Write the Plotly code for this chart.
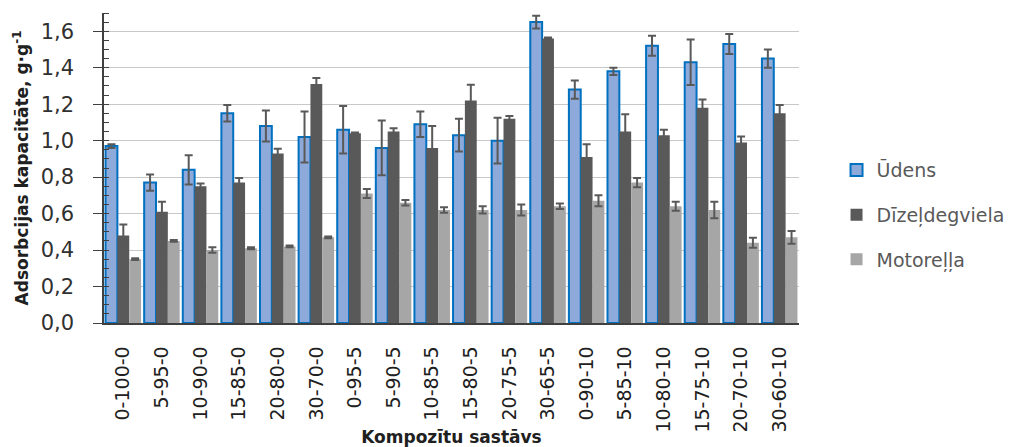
import plotly.graph_objects as go

categories = ["0-100-0", "5-95-0", "10-90-0", "15-85-0", "20-80-0", "30-70-0",
              "0-95-5", "5-90-5", "10-85-5", "15-80-5", "20-75-5", "30-65-5",
              "0-90-10", "5-85-10", "10-80-10", "15-75-10", "20-70-10", "30-60-10"]

udens = [0.97, 0.77, 0.84, 1.15, 1.08, 1.02, 1.06, 0.96, 1.09, 1.03, 1.00, 1.65,
         1.28, 1.38, 1.52, 1.43, 1.53, 1.45]
udens_err = [0.01, 0.045, 0.08, 0.045, 0.085, 0.14, 0.13, 0.15, 0.07, 0.09, 0.125, 0.035,
             0.05, 0.02, 0.055, 0.125, 0.055, 0.05]

dizeldegviela = [0.48, 0.61, 0.75, 0.77, 0.93, 1.31, 1.04, 1.05, 0.96, 1.22, 1.12, 1.56,
                 0.91, 1.05, 1.03, 1.18, 0.99, 1.15]
dizeldegviela_err = [0.06, 0.055, 0.015, 0.025, 0.025, 0.033, 0.005, 0.018, 0.12, 0.087, 0.015, 0.005,
                     0.07, 0.095, 0.03, 0.045, 0.033, 0.045]

motorella = [0.35, 0.45, 0.40, 0.41, 0.42, 0.47, 0.71, 0.66, 0.62, 0.62, 0.62, 0.64,
             0.67, 0.77, 0.64, 0.62, 0.44, 0.47]
motorella_err = [0.005, 0.005, 0.015, 0.005, 0.005, 0.005, 0.025, 0.015, 0.015, 0.02, 0.03, 0.015,
                 0.03, 0.025, 0.025, 0.045, 0.027, 0.035]

series_names = ["Ūdens", "Dīzeļdegviela", "Motoreļļa"]

FONT = "DejaVu Sans"
ERR_COLOR = "#595959"
AXIS_COLOR = "#404040"

fig = go.Figure()

def add_series(name, values, errors, fill, line_color, line_width, group):
    fig.add_trace(go.Bar(
        name=name, x=categories, y=values,
        marker=dict(color=fill, line=dict(color=line_color, width=line_width)),
        error_y=dict(type="data", array=errors, visible=True,
                     color=ERR_COLOR, thickness=2, width=4),
        legendgroup=group,
    ))

add_series(series_names[0], udens, udens_err, "#8EAADB", "#0070C0", 2, "a")
add_series(series_names[1], dizeldegviela, dizeldegviela_err, "#595959", "#595959", 0, "b")
add_series(series_names[2], motorella, motorella_err, "#A6A6A6", "#A6A6A6", 0, "c")

fig.update_layout(
    width=1022, height=447,
    margin=dict(l=104, r=216, t=13, b=124),
    paper_bgcolor="white", plot_bgcolor="white",
    barmode="group", bargap=0.08, bargroupgap=0,
    separators=", ",
    font=dict(family=FONT, color="#404040"),
    legend=dict(x=1.054, y=0.348, xanchor="left", yanchor="middle",
                font=dict(family=FONT, size=19, color="#595959"),
                tracegroupgap=17, bgcolor="rgba(0,0,0,0)"),
    showlegend=True,
)

fig.update_yaxes(
    range=[0, 1.7], dtick=0.2, tick0=0, tickformat=".1f",
    automargin=False,
    showgrid=True, gridcolor="#C8C8C8", gridwidth=1,
    showline=True, linecolor=AXIS_COLOR, linewidth=1.5,
    ticks="outside", ticklen=9, tickcolor=AXIS_COLOR, ticklabelstandoff=15,
    minor=dict(dtick=0.05, ticks="inside", ticklen=5, tickcolor=AXIS_COLOR, showgrid=False),
    tickfont=dict(family=FONT, size=21, color="#303030"),
    title=dict(text="<b>Adsorbcijas kapacitāte, g·g<sup>-1</sup></b>",
               font=dict(family=FONT, size=17, color="#202020"), standoff=8),
    zeroline=False,
)

fig.update_xaxes(
    automargin=False,
    showline=True, linecolor=AXIS_COLOR, linewidth=1.5,
    ticks="", tickangle=-90, ticklabelstandoff=14,
    tickfont=dict(family=FONT, size=19, color="#202020"),
    title=dict(text="<b>Kompozītu sastāvs</b>",
               font=dict(family=FONT, size=17, color="#202020"), standoff=4),
)

fig.write_html("out.html")
